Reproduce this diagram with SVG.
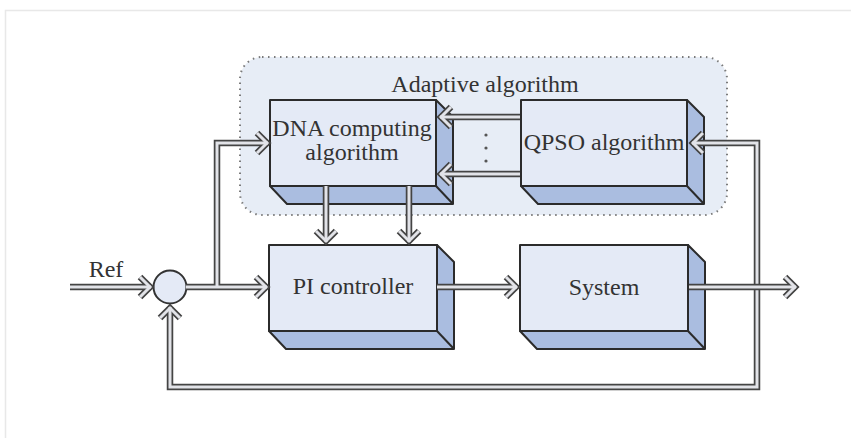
<svg xmlns="http://www.w3.org/2000/svg" width="851" height="438" viewBox="0 0 851 438">
<style>
.front{fill:#e4eaf6;stroke:#2b2b2b;stroke-width:2;stroke-linejoin:round}
.shade{fill:#aabde0;stroke:#2b2b2b;stroke-width:2;stroke-linejoin:round}
.edge{stroke:#2b2b2b;stroke-width:2;fill:none}
.lbl{font-family:"Liberation Serif","Times New Roman",serif;font-size:24px;fill:#333;text-anchor:middle}
.out{fill:none;stroke:#444;stroke-width:6.5;stroke-linejoin:miter;stroke-linecap:butt}
.inn{fill:none;stroke:#e2e3e8;stroke-width:3;stroke-linejoin:miter;stroke-linecap:butt}
</style>
<defs>
<path id="c1" d="M70 287 H151"/>
<path id="h1" d="M140 277 L150 287 L140 297"/>
<path id="c2" d="M186 287 H267"/>
<path id="h2" d="M256 277 L266 287 L256 297"/>
<path id="c3" d="M217 287 V143 H268"/>
<path id="h3" d="M257 133 L267 143 L257 153"/>
<path id="c4" d="M326 186 V242"/>
<path id="h4" d="M316 231 L326 241 L336 231"/>
<path id="c5" d="M409 186 V242"/>
<path id="h5" d="M399 231 L409 241 L419 231"/>
<path id="c6" d="M520 117 H440"/>
<path id="h6" d="M451 107 L441 117 L451 127"/>
<path id="c7" d="M520 174 H440"/>
<path id="h7" d="M451 164 L441 174 L451 184"/>
<path id="c8" d="M692 143 H757 V387 H170 V307"/>
<path id="h8" d="M160 318 L170 308 L180 318"/>
<path id="c9" d="M437 287 H517"/>
<path id="h9" d="M506 277 L516 287 L506 297"/>
<path id="c10" d="M689 287 H796"/>
<path id="h10" d="M785 277 L795 287 L785 297"/>
<path id="h11" d="M703 133 L693 143 L703 153"/>
</defs>
<rect x="5.5" y="10.5" width="860" height="440" fill="#fff" stroke="#e8e8e8" stroke-width="1.5"/>
<g id="adaptive">
<rect x="240" y="57" width="487" height="158" rx="22" fill="#e7edf6" stroke="#7a7a7a" stroke-width="2" stroke-dasharray="1.5 4.5"/>
<text class="lbl" x="485" y="92">Adaptive algorithm</text>
</g>
<g id="dna">
<polygon class="shade" points="436,100 453,117 453,204 287,204 270,186 436,186"/>
<line class="edge" x1="436" y1="186" x2="453" y2="204"/>
<rect class="front" x="270" y="100" width="166" height="86"/>
<text class="lbl" x="352" y="136">DNA computing</text>
<text class="lbl" x="352" y="160">algorithm</text>
</g>
<g id="qpso">
<polygon class="shade" points="687,100 704,117 704,204 538,204 521,186 687,186"/>
<line class="edge" x1="687" y1="186" x2="704" y2="204"/>
<rect class="front" x="521" y="100" width="166" height="86"/>
<text class="lbl" x="604" y="150">QPSO algorithm</text>
</g>
<g id="pi">
<polygon class="shade" points="437,245 454,262 454,349 286,349 269,331 437,331"/>
<line class="edge" x1="437" y1="331" x2="454" y2="349"/>
<rect class="front" x="269" y="245" width="168" height="86"/>
<text class="lbl" x="353" y="294">PI controller</text>
</g>
<g id="system">
<polygon class="shade" points="688,245 705,262 705,349 537,349 520,331 688,331"/>
<line class="edge" x1="688" y1="331" x2="705" y2="349"/>
<rect class="front" x="520" y="245" width="168" height="86"/>
<text class="lbl" x="604" y="295">System</text>
</g>
<g id="sum">
<circle cx="170" cy="287" r="16.5" fill="#e4eaf6" stroke="#333" stroke-width="2"/>
</g>
<g id="ref">
<text class="lbl" x="106" y="277">Ref</text>
</g>
<g id="dots" fill="#555">
<circle cx="486" cy="135" r="1.6"/>
<circle cx="486" cy="148" r="1.6"/>
<circle cx="486" cy="161" r="1.6"/>
</g>
<g id="connectors">
<g class="out">
<use href="#c1"/><use href="#h1"/><use href="#c2"/><use href="#h2"/><use href="#c3"/><use href="#h3"/>
<use href="#c4"/><use href="#h4"/><use href="#c5"/><use href="#h5"/><use href="#c6"/><use href="#h6"/>
<use href="#c7"/><use href="#h7"/><use href="#c8"/><use href="#h8"/><use href="#h11"/><use href="#c9"/><use href="#h9"/>
</g>
<g class="inn">
<use href="#c1"/><use href="#h1"/><use href="#c2"/><use href="#h2"/><use href="#c3"/><use href="#h3"/>
<use href="#c4"/><use href="#h4"/><use href="#c5"/><use href="#h5"/><use href="#c6"/><use href="#h6"/>
<use href="#c7"/><use href="#h7"/><use href="#c8"/><use href="#h8"/><use href="#h11"/><use href="#c9"/><use href="#h9"/>
</g>
<use class="out" href="#c10"/><use class="out" href="#h10"/>
<use class="inn" href="#c10"/><use class="inn" href="#h10"/>
</g>
</svg>
